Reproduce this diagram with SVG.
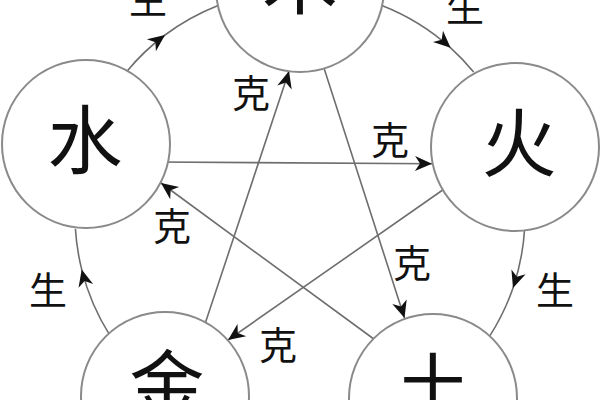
<svg xmlns="http://www.w3.org/2000/svg" width="600" height="400" viewBox="0 0 600 400">
<style>
.node circle{fill:#fff;stroke:#8a8a8a;stroke-width:2}
.big{font-family:"Noto Sans CJK SC","Noto Sans CJK JP",sans-serif;font-size:75px;fill:#111;text-anchor:middle}
.lbl{font-family:"Noto Sans CJK SC","Noto Sans CJK JP",sans-serif;font-size:38px;fill:#111;text-anchor:middle}
.c{fill:none;stroke:#6e6e6e;stroke-width:1.6;marker-mid:url(#ah)}
</style>
<defs>
<marker id="ah" markerUnits="userSpaceOnUse" viewBox="-19 -9 20 18" markerWidth="20" markerHeight="18" refX="0" refY="0" orient="auto">
<path d="M0,0 L-17,-7.5 L-12,0 L-17,7.5 Z" fill="#111"/>
</marker>
</defs>
<rect width="600" height="400" fill="#fff"/>
<g id="connectors">
<path class="c" d="M126.4,71.9 A225,225 0 0 1 165,35 A225,225 0 0 1 217.5,5.7"/>
<path class="c" d="M382.5,5.7 A225,225 0 0 1 450.6,47.8 A225,225 0 0 1 473.6,71.9"/>
<path class="c" d="M524.6,228.7 A225,225 0 0 1 513,288 A225,225 0 0 1 489.8,335.9"/>
<path class="c" d="M110.2,335.9 A225,225 0 0 1 81.7,269.4 A225,225 0 0 1 75.4,228.7"/>
<path class="c" d="M202,333 L289,71 L291,62"/>
<path class="c" d="M323,65 L404.5,318 L408,330"/>
<path class="c" d="M157,162 L432,163.7 L445,164"/>
<path class="c" d="M447,187 L228,340 L217,348"/>
<path class="c" d="M382,345 L161,183 L153,177"/>
<text class="lbl" x="148" y="13">生</text>
<text class="lbl" x="465" y="21">生</text>
<text class="lbl" x="555" y="304">生</text>
<text class="lbl" x="48" y="304">生</text>
<text class="lbl" x="251" y="107">克</text>
<text class="lbl" x="390" y="154">克</text>
<text class="lbl" x="172" y="240">克</text>
<text class="lbl" x="412" y="277">克</text>
<text class="lbl" x="278" y="359">克</text>
</g>
<g id="wood" class="node"><circle cx="300" cy="-12" r="84"/><text class="big" x="300" y="8">木</text></g>
<g id="water" class="node"><circle cx="86" cy="144" r="84"/><text class="big" x="85" y="168">水</text></g>
<g id="fire" class="node"><circle cx="515" cy="147" r="84"/><text class="big" x="519" y="171">火</text></g>
<g id="metal" class="node"><circle cx="165" cy="396" r="84"/><text class="big" x="167" y="413">金</text></g>
<g id="earth" class="node"><circle cx="433" cy="398" r="84"/><text class="big" x="433" y="416">土</text></g>
</svg>
